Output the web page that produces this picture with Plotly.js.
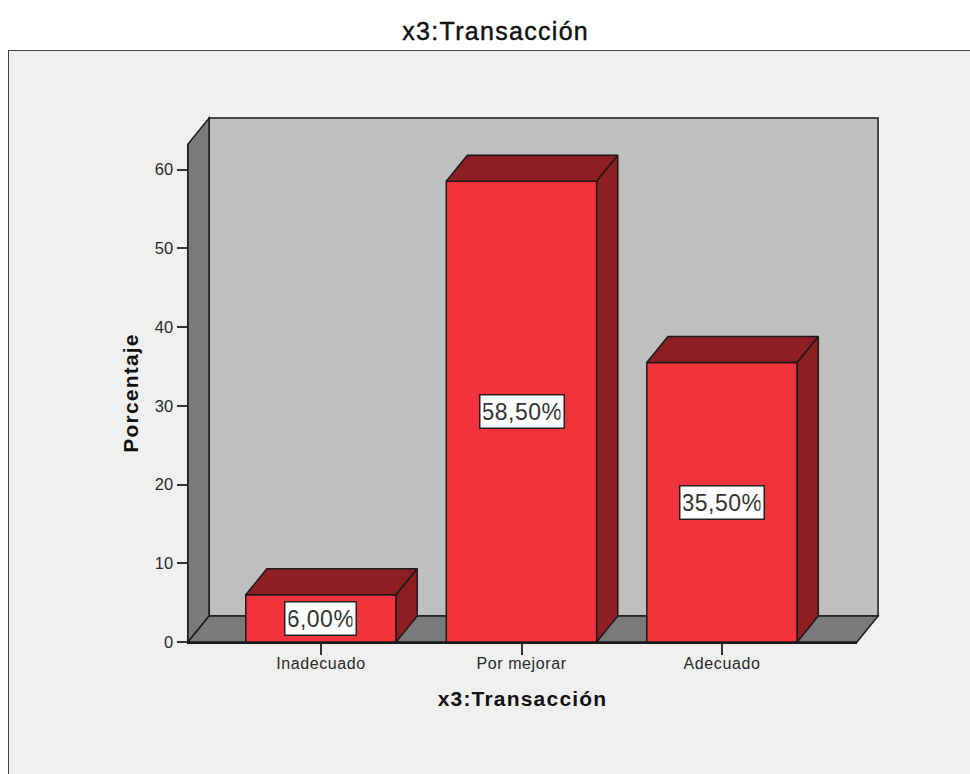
<!DOCTYPE html>
<html>
<head>
<meta charset="utf-8">
<script src="https://cdn.plot.ly/plotly-3.0.1.min.js"></script>
<style>
  html, body { margin: 0; padding: 0; background: #ffffff; overflow: hidden; }
  #panel { position: absolute; left: 8px; top: 50px; width: 1000px; height: 800px;
           background: #f0f0f0; border: 1.5px solid #444444; box-sizing: border-box; }
  #chart { position: absolute; left: 0; top: 0; width: 970px; height: 774px; }
  /* Wider tracking on the chart's text */
  #chart .gtitle { letter-spacing: 1.3px; stroke: #111111; stroke-width: 0.45px; }
  #chart .xtitle, #chart .ytitle { letter-spacing: 1.2px; }
  #chart .xtick text { letter-spacing: 0.6px; }
  #chart .annotation-text { letter-spacing: 0.5px; }
</style>
</head>
<body>
<div id="panel"></div>
<div id="chart"></div>
<script>
// Survey result: share of responses per rating of the "Transacción" dimension
const categories = ["Inadecuado", "Por mejorar", "Adecuado"];
const percentages = [6.0, 58.5, 35.5];
const yTicks = [0, 10, 20, 30, 40, 50, 60];

// Axis ranges and the oblique offset used for the 3D look, in axis units
const xRange = [-0.663, 2.673];
const yRange = [0, 63.24];
const barWidth = 0.75;
const depthX = 0.105;
const depthY = 3.3;

const edge = "#1a1a1a";
const barFront = "#f2333b";
const barShade = "#8f1e22";
const wallBack = "#bfbfbf";
const wallShade = "#7a7a7a";

const px = v => (v - xRange[0]) / (xRange[1] - xRange[0]);
const py = v => (v - yRange[0]) / (yRange[1] - yRange[0]);

// Polygon in axis units converted to a paper-referenced path, so it may leave the plot area
function wall(points, fill) {
  const path = points.map((p, i) => (i ? "L" : "M") + px(p[0]) + "," + py(p[1])).join(" ") + " Z";
  return { type: "path", xref: "paper", yref: "paper", layer: "below", path: path,
           fillcolor: fill, line: { color: edge, width: 1.5 } };
}

const x0 = xRange[0], x1 = xRange[1], yTop = yRange[1];
const shapes = [
  wall([[x0 + depthX, depthY], [x1 + depthX, depthY], [x1 + depthX, yTop + depthY], [x0 + depthX, yTop + depthY]], wallBack),
  wall([[x0, 0], [x0 + depthX, depthY], [x0 + depthX, yTop + depthY], [x0, yTop]], wallShade),
  wall([[x0, 0], [x1, 0], [x1 + depthX, depthY], [x0 + depthX, depthY]], wallShade)
];

const xIndex = categories.map((_, i) => i);

const traces = [{
  type: "bar",
  x: xIndex,
  y: percentages,
  width: barWidth,
  marker: { color: barFront, line: { color: edge, width: 1.5 } },
  cliponaxis: false,
  hoverinfo: "skip",
  showlegend: false
}];

// Top and side faces of every bar, derived from its value
percentages.forEach((v, i) => {
  const l = i - barWidth / 2, r = i + barWidth / 2;
  const faces = [
    [[l, r, r + depthX, l + depthX, l], [v, v, v + depthY, v + depthY, v]],
    [[r, r + depthX, r + depthX, r, r], [0, depthY, v + depthY, v, 0]]
  ];
  faces.forEach(f => traces.push({
    type: "scatter", mode: "lines", x: f[0], y: f[1], fill: "toself",
    fillcolor: barShade, line: { color: edge, width: 1.5 },
    cliponaxis: false, hoverinfo: "skip", showlegend: false
  }));
});

// White value boxes, sized to the length of their text
const valueLabels = percentages.map((v, i) => {
  const text = v.toFixed(2).replace(".", ",") + "%";
  return {
    x: i, y: v / 2, xref: "x", yref: "y", showarrow: false, text: text,
    font: { family: "Liberation Sans, Arial, sans-serif", size: 23, color: "#333333" },
    width: 13 * text.length - 1, height: 26, align: "center", valign: "middle",
    bgcolor: "#ffffff", bordercolor: "#222222", borderwidth: 1.5, borderpad: 3
  };
});

const layout = {
  width: 970,
  height: 774,
  margin: { l: 188, r: 113, t: 144, b: 132 },
  paper_bgcolor: "rgba(0,0,0,0)",
  plot_bgcolor: "rgba(0,0,0,0)",
  font: { family: "Liberation Sans, Arial, sans-serif", color: "#222222" },
  showlegend: false,
  title: {
    text: "x3:Transacción",
    font: { size: 25, weight: "normal", color: "#111111" },
    x: 0.511, xanchor: "center", xref: "container",
    y: 0.96, yanchor: "middle", yref: "container"
  },
  xaxis: {
    range: xRange,
    tickmode: "array",
    tickvals: xIndex,
    ticktext: categories,
    ticks: "outside", ticklen: 11, tickwidth: 2, tickcolor: "#333333",
    tickfont: { size: 16, color: "#2a2a2a" },
    ticklabelstandoff: -5,
    showgrid: false, zeroline: false,
    showline: true, linecolor: edge, linewidth: 1.5,
    title: { text: "x3:Transacción", font: { size: 21, weight: "bold", color: "#111111" }, standoff: 20 }
  },
  yaxis: {
    range: yRange,
    tickmode: "array",
    tickvals: yTicks,
    ticks: "outside", ticklen: 10, tickwidth: 2, tickcolor: "#333333",
    tickfont: { size: 16.5, color: "#2a2a2a" },
    showgrid: false, zeroline: false,
    showline: true, linecolor: edge, linewidth: 1.5,
    title: { text: "Porcentaje", font: { size: 21, weight: "bold", color: "#111111" }, standoff: 10 }
  },
  shapes: shapes,
  annotations: valueLabels
};

Plotly.newPlot("chart", traces, layout, { displayModeBar: false, staticPlot: true });
</script>
</body>
</html>
